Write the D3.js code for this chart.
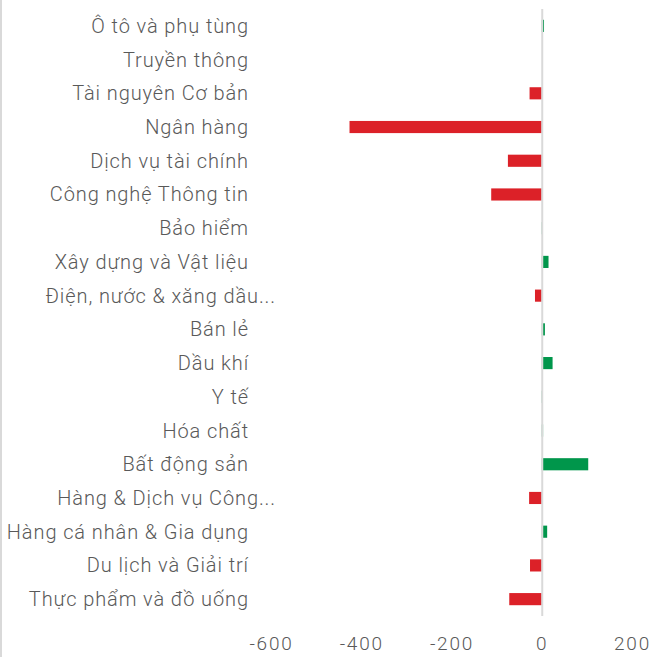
<!DOCTYPE html>
<html>
<head>
<meta charset="utf-8">
<script src="https://cdn.jsdelivr.net/npm/d3@7"></script>
<style>
  body { margin: 0; background: #fff; }
  svg text { font-family: Roboto, "Noto Sans", sans-serif; font-weight: 300; fill: #595959; }
</style>
</head>
<body>
<svg id="chart"></svg>
<script>
const categories = [
  "Ô tô và phụ tùng", "Truyền thông", "Tài nguyên Cơ bản", "Ngân hàng",
  "Dịch vụ tài chính", "Công nghệ Thông tin", "Bảo hiểm", "Xây dựng và Vật liệu",
  "Điện, nước & xăng dầu...", "Bán lẻ", "Dầu khí", "Y tế", "Hóa chất",
  "Bất động sản", "Hàng & Dịch vụ Công...", "Hàng cá nhân & Gia dụng",
  "Du lịch và Giải trí", "Thực phẩm và đồ uống"
]
const values = [5, 0, -27, -426, -75, -112, 1, 15, -15, 7, 24, 1, 3, 103, -28, 12, -26, -72]
const ticks = [-600, -400, -200, 0, 200]

const width = 654, height = 657

const svg = d3.select("#chart")
  .attr("width", width)
  .attr("height", height)

// chart border on the left
svg.append("line")
  .attr("x1", 1).attr("x2", 1)
  .attr("y1", 0).attr("y2", height)
  .attr("stroke", "#d9d9d9")
  .attr("stroke-width", 2)

const x = d3.scaleLinear().domain([-600, 200]).range([271, 632])
const y = d3.scaleBand().domain(categories).range([9, 616]).paddingInner(0.64).paddingOuter(0.32)

const rows = categories.map((c, i) => ({name: c, value: values[i]}))

svg.append("g")
  .selectAll("rect")
  .data(rows)
  .enter().append("rect")
  .attr("x", d => d.value < 0 ? x(d.value) : x(0))
  .attr("width", d => Math.abs(x(d.value) - x(0)))
  .attr("y", d => y(d.name))
  .attr("height", y.bandwidth())
  .attr("fill", d => d.value < 0 ? "#dc2128" : "#00964b")

// zero line
svg.append("line")
  .attr("x1", x(0) + 0.5).attr("x2", x(0) + 0.5)
  .attr("y1", 9).attr("y2", 616)
  .attr("stroke", "#d9d9d9")
  .attr("stroke-width", 2)

// category labels
svg.append("g")
  .selectAll("text")
  .data(rows)
  .enter().append("text")
  .attr("x", d => d.name.endsWith("...") ? 276 : 249)
  .attr("y", d => y(d.name) + y.bandwidth() / 2)
  .attr("dy", "0.35em")
  .attr("text-anchor", "end")
  .attr("font-size", 20)
  .attr("letter-spacing", 0.9)
  .text(d => d.name)

// x axis
const axis = svg.append("g")
  .attr("transform", "translate(0,643)")
  .call(d3.axisBottom(x).tickValues(ticks).tickSize(0).tickPadding(0).tickFormat(d => String(d)))
axis.select(".domain").remove()
axis.selectAll("text")
  .attr("font-size", 19)
  .attr("letter-spacing", 1.8)
  .attr("dy", "0.35em")
  .attr("y", 0)
  .style("font-family", "Roboto, 'Noto Sans', sans-serif")
  .style("font-weight", 300)
  .attr("fill", "#595959")
</script>
</body>
</html>
